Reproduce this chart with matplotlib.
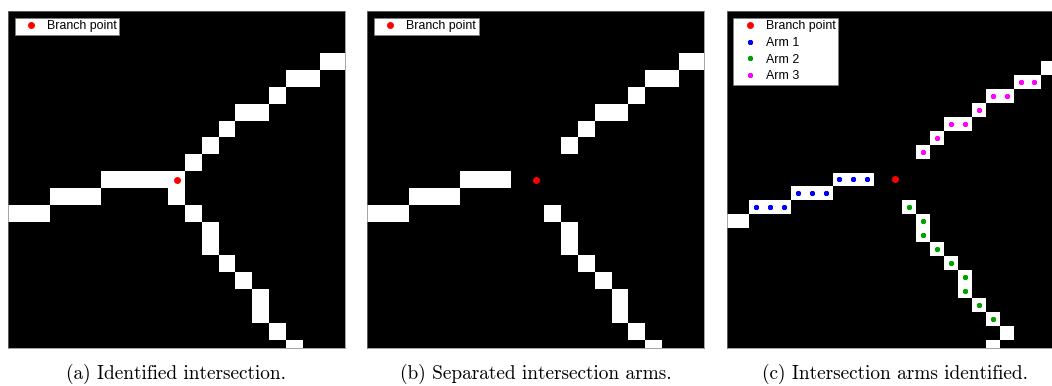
import numpy as np
import matplotlib
matplotlib.use("Agg")
import matplotlib.pyplot as plt
from matplotlib.colors import ListedColormap

# ---- data (pixel column / row indices of skeleton) ----
arm1_cols = [0, 1, 2, 3, 4, 5, 6, 7, 8]
arm1_rows = [12, 12, 12, 11, 11, 11, 10, 10, 10]
arm2_cols = [11, 12, 12, 13, 14, 15, 15, 16, 17]
arm2_rows = [12, 13, 14, 15, 16, 17, 18, 19, 20]
arm3_cols = [12, 13, 14, 15, 16, 17, 18, 19, 20]
arm3_rows = [8, 7, 6, 6, 5, 4, 4, 3, 3]
junction_cols = [9, 10, 10, 11]
junction_rows = [10, 10, 11, 9]
tail_cols = [-2, -1, 21, 18, 17]
tail_rows = [13, 13, 2, 21, 22]
branch_col = [10]
branch_row = [10]

captions = ["(a) Identified intersection.",
            "(b) Separated intersection arms.",
            "(c) Intersection arms identified."]

GMIN, GMAX = -3, 24


def make_grid(include_junction):
    n = GMAX - GMIN
    z = np.zeros((n, n))
    cols = arm1_cols + arm2_cols + arm3_cols + tail_cols
    rows = arm1_rows + arm2_rows + arm3_rows + tail_rows
    if include_junction:
        cols = cols + junction_cols
        rows = rows + junction_rows
    for c, r in zip(cols, rows):
        z[r - GMIN, c - GMIN] = 1
    return np.ma.masked_equal(z, 0)


W, H = 1052, 386
fig = plt.figure(figsize=(W / 100, H / 100), dpi=100)
fig.patch.set_facecolor("white")

lefts = [8, 367.3, 726.7]
aw, ah = 337, 337
top = 11
limits = [(0, 20), (0, 20), (-2.1, 22.1)]
edges = np.arange(GMIN, GMAX + 1) - 0.5
cmap = ListedColormap(["white"])
legfont = {"family": "Liberation Sans", "size": 8.9}

for i in range(3):
    ax = fig.add_axes([lefts[i] / W, (H - top - ah) / H, aw / W, ah / H])
    ax.set_facecolor("black")
    z = make_grid(include_junction=(i == 0))
    ax.pcolormesh(edges, edges, z, cmap=cmap, vmin=0, vmax=1,
                  edgecolors="none", antialiased=False)
    lo, hi = limits[i]
    ax.set_xlim(lo, hi)
    ax.set_ylim(hi, lo)
    ax.set_xticks([])
    ax.set_yticks([])
    for s in ax.spines.values():
        s.set_color("0.5")
        s.set_linewidth(0.5)
    ax.plot(branch_col, branch_row, "o", color="red", ms=5, mec="none",
            label="Branch point", zorder=5)
    if i == 2:
        ax.plot(arm1_cols, arm1_rows, ls="none", marker=(6, 2, 0), ms=3.5,
                mew=1.3, color="blue", label="Arm 1", zorder=5)
        ax.plot(arm2_cols, arm2_rows, ls="none", marker=(6, 2, 0), ms=3.5,
                mew=1.3, color="#00a000", label="Arm 2", zorder=5)
        ax.plot(arm3_cols, arm3_rows, ls="none", marker=(6, 2, 0), ms=3.5,
                mew=1.3, color="magenta", label="Arm 3", zorder=5)
    leg = ax.legend(loc="upper left", prop=legfont, borderaxespad=0.55,
                    borderpad=0.2, handlelength=2.2, handletextpad=0.22,
                    labelspacing=0.38, fancybox=False, framealpha=1,
                    edgecolor="0.5", facecolor="white", numpoints=1)
    leg.get_frame().set_linewidth(0.5)
    cx = (lefts[i] + aw / 2) / W
    fig.text(cx, 1 - 379 / H, captions[i], ha="center", va="baseline",
             family="cmr10", fontsize=13.9)

fig.savefig("out.png", dpi=100, facecolor="white")
